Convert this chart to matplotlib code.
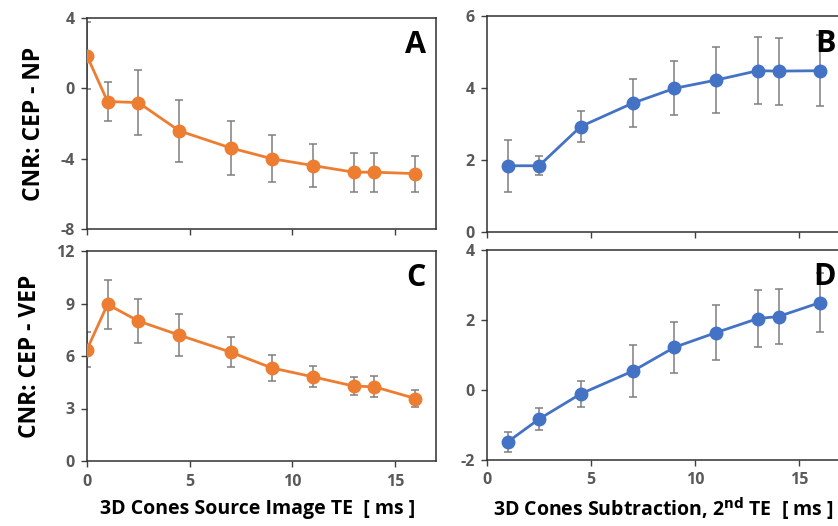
import matplotlib
matplotlib.use("Agg")
import matplotlib.pyplot as plt

# ── Data ─────────────────────────────────────────────────────
te_src = [0, 1, 2.5, 4.5, 7, 9, 11, 13, 14, 16]
te_sub = [1, 2.5, 4.5, 7, 9, 11, 13, 14, 16]

cnr_np = [1.85, -0.75, -0.81, -2.42, -3.39, -4.0, -4.39, -4.77, -4.77, -4.85]
err_np = [1.9, 1.1, 1.85, 1.78, 1.55, 1.33, 1.2, 1.1, 1.1, 1.03]

cnr_vep = [6.37, 8.95, 8.0, 7.19, 6.22, 5.32, 4.81, 4.28, 4.24, 3.57]
err_vep = [1.0, 1.38, 1.28, 1.2, 0.86, 0.76, 0.6, 0.5, 0.6, 0.49]

sub_np = [1.84, 1.84, 2.93, 3.58, 3.99, 4.22, 4.48, 4.47, 4.48]
sub_np_err = [0.72, 0.27, 0.42, 0.67, 0.75, 0.92, 0.93, 0.93, 0.98]

sub_vep = [-1.48, -0.83, -0.11, 0.54, 1.22, 1.64, 2.04, 2.10, 2.50]
sub_vep_err = [0.29, 0.32, 0.38, 0.75, 0.73, 0.79, 0.81, 0.78, 0.84]

ORANGE = '#ED7D31'
BLUE = '#4472C4'
GRAY = '#7F7F7F'
TICK = '#595959'

plt.rcParams['font.family'] = ['Open Sans', 'DejaVu Sans']
plt.rcParams['axes.unicode_minus'] = False

W, H = 838, 526
fig = plt.figure(figsize=(W / 100, H / 100), dpi=100)

def box(l, t, r, b):
    return [l / W, 1 - b / H, (r - l) / W, (b - t) / H]

# ── Panels ───────────────────────────────────────────────────
panels = [
    (box(87, 18, 436, 229), te_src, cnr_np, err_np, ORANGE, (-8, 4), [-8, -4, 0, 4], 'A', False),
    (box(487, 16, 841, 232), te_sub, sub_np, sub_np_err, BLUE, (0, 6), [0, 2, 4, 6], 'B', False),
    (box(87, 251, 436, 461), te_src, cnr_vep, err_vep, ORANGE, (0, 12), [0, 3, 6, 9, 12], 'C', True),
    (box(487, 250, 841, 460), te_sub, sub_vep, sub_vep_err, BLUE, (-2, 4), [-2, 0, 2, 4], 'D', True),
]

axes = []
for pos, x, y, e, col, ylim, yt, letter, show_x in panels:
    ax = fig.add_axes(pos)
    ax.errorbar(x, y, yerr=e, fmt='none', ecolor=GRAY, elinewidth=1.1,
                capsize=3, capthick=1.1, zorder=2)
    ax.plot(x, y, '-o', color=col, lw=2, ms=9, zorder=3)
    ax.set_xlim(0, 17)
    ax.set_ylim(*ylim)
    ax.set_yticks(yt)
    ax.set_xticks([0, 5, 10, 15])
    if not show_x:
        ax.set_xticklabels([])
    ax.tick_params(direction='out', length=4, width=1, colors='#404040',
                   labelcolor=TICK, labelsize=11.5, pad=5)
    for lab in ax.get_xticklabels() + ax.get_yticklabels():
        lab.set_fontweight('bold')
    for s in ax.spines.values():
        s.set_color('#303030')
        s.set_linewidth(1.1)
    ax.text(0.985 if letter in 'BD' else 0.97, 0.87, letter, transform=ax.transAxes,
            ha='right', va='center', fontsize=22, fontweight='bold', color='black')
    axes.append(ax)

axes[0].set_ylabel('CNR: CEP - NP', fontsize=16.5, fontweight='bold', labelpad=10)
axes[2].set_ylabel('CNR: CEP - VEP', fontsize=16.5, fontweight='bold', labelpad=10)

# x labels (the right one runs up to the figure edge, as in the original)
fig.text(258 / W, 1 - 509 / H, '3D Cones Source Image TE  [ ms ]', fontsize=14,
         fontweight='bold', ha='center', va='center')
fig.text(834 / W, 1 - 509 / H, '3D Cones Subtraction, 2$^{\\mathbf{nd}}$ TE  [ ms ]',
         fontsize=14, fontweight='bold', ha='right', va='center')

fig.savefig('out.png', dpi=100)
